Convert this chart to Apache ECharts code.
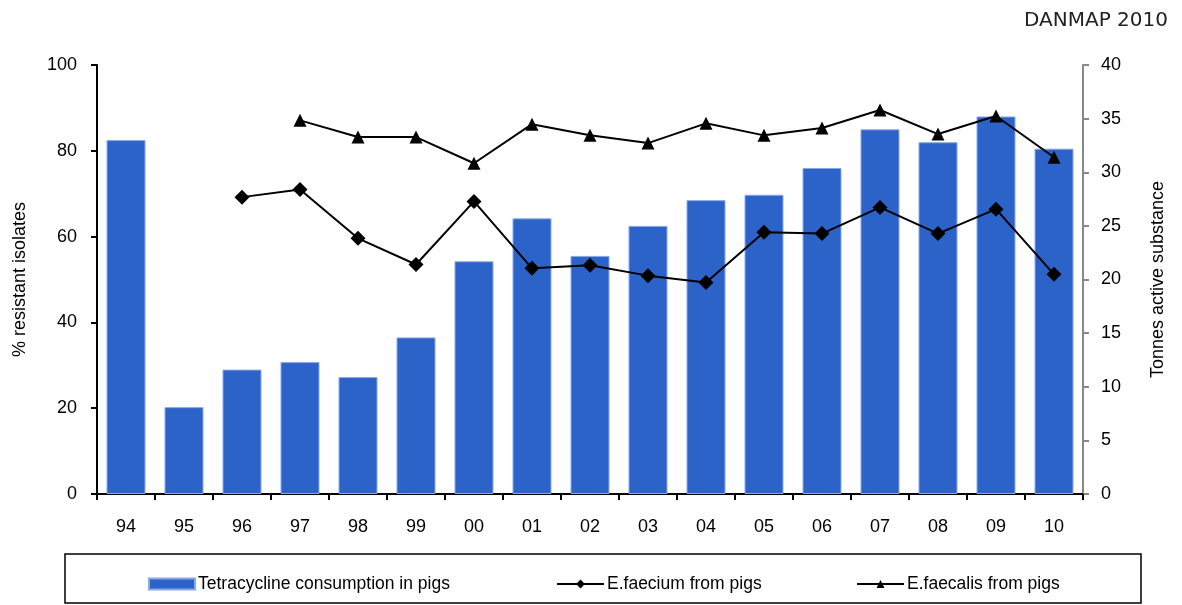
<!DOCTYPE html>
<html><head><meta charset="utf-8">
<script src="https://cdn.jsdelivr.net/npm/echarts@6/dist/echarts.min.js"></script>
<style>html,body{margin:0;padding:0;background:#fff}#c{width:1182px;height:605px}</style>
</head><body><div id="c"></div>
<script>
const years = ['94','95','96','97','98','99','00','01','02','03','04','05','06','07','08','09','10'];
const tonnes = [33.0, 8.1, 11.6, 12.3, 10.9, 14.6, 21.7, 25.7, 22.2, 25.0, 27.4, 27.9, 30.4, 34.0, 32.8, 35.2, 32.2];
const faecium = [null, null, 69.2, 71.0, 59.6, 53.5, 68.2, 52.6, 53.3, 50.9, 49.3, 61.0, 60.7, 66.8, 60.7, 66.4, 51.2];
const faecalis = [null, null, null, 87.1, 83.2, 83.2, 77.1, 86.2, 83.6, 81.8, 86.4, 83.6, 85.3, 89.5, 83.9, 88.1, 78.5];
const leftTicks = [0, 20, 40, 60, 80, 100];
const rightTicks = [0, 5, 10, 15, 20, 25, 30, 35, 40];

const chart = echarts.init(document.getElementById('c'));
const font = '"Liberation Sans", Arial, sans-serif';
const legendText = {fontFamily: font, fontSize: 17.5, color: '#000', padding: [0, 0, 0, -2]};
chart.setOption({
  animation: false,
  title: {text: 'DANMAP 2010', right: 9, top: 6, textStyle: {fontFamily: '"DejaVu Sans", sans-serif', fontWeight: 'normal', fontSize: 20, color: '#222'}},
  grid: {left: 97, right: 99, top: 65, bottom: 111},
  legend: [
    {data: [{name: 'Tetracycline consumption in pigs', icon: 'rect'}], left: 143, top: 570, itemWidth: 46, itemHeight: 11, textStyle: legendText, itemGap: 4},
    {data: ['E.faecium from pigs'], left: 551, top: 570, itemWidth: 47, itemHeight: 11, textStyle: legendText},
    {data: ['E.faecalis from pigs'], left: 851, top: 570, itemWidth: 47, itemHeight: 10, textStyle: legendText}
  ],
  graphic: [{type: 'rect', shape: {x: 65, y: 554, width: 1076, height: 49}, style: {fill: 'none', stroke: '#000', lineWidth: 1.5}, z: -1}],
  xAxis: {
    type: 'category', data: years, boundaryGap: true,
    axisLine: {lineStyle: {color: '#000', width: 2}},
    axisTick: {show: true, alignWithLabel: false, length: 6, lineStyle: {color: '#000', width: 2}},
    axisLabel: {fontFamily: font, fontSize: 18, color: '#000', margin: 24}
  },
  yAxis: [
    {type: 'value', min: 0, max: 100, interval: 20, name: '% resistant isolates', nameLocation: 'middle', nameGap: 68, nameRotate: 90,
     nameTextStyle: {fontFamily: font, fontSize: 18, color: '#000'},
     axisLine: {show: true, lineStyle: {color: '#000', width: 2}},
     axisTick: {show: true, length: 6, lineStyle: {color: '#000', width: 2}},
     axisLabel: {fontFamily: font, fontSize: 18, color: '#000', margin: 20, formatter: v => leftTicks.includes(v) ? String(v) : ''},
     splitLine: {show: false}},
    {type: 'value', min: 0, max: 40, interval: 5, name: 'Tonnes active substance', nameLocation: 'middle', nameGap: 66, nameRotate: 90,
     nameTextStyle: {fontFamily: font, fontSize: 18, color: '#000'},
     axisLine: {show: true, lineStyle: {color: '#888', width: 2}},
     axisTick: {show: true, length: 6, lineStyle: {color: '#888', width: 2}},
     axisLabel: {fontFamily: font, fontSize: 18, color: '#000', margin: 18, formatter: v => rightTicks.includes(v) ? String(v) : ''},
     splitLine: {show: false}}
  ],
  series: [
    {name: 'Tetracycline consumption in pigs', type: 'bar', yAxisIndex: 1, data: tonnes, barWidth: 39,
     itemStyle: {color: '#2C63C9', borderColor: '#8AA8E6', borderWidth: 1}},
    {name: 'E.faecium from pigs', type: 'line', yAxisIndex: 0, data: faecium, symbol: 'diamond', symbolSize: 15,
     lineStyle: {color: '#000', width: 2}, itemStyle: {color: '#000'}},
    {name: 'E.faecalis from pigs', type: 'line', yAxisIndex: 0, data: faecalis, symbol: 'triangle', symbolSize: 13,
     lineStyle: {color: '#000', width: 2}, itemStyle: {color: '#000'}}
  ]
});
</script></body></html>
